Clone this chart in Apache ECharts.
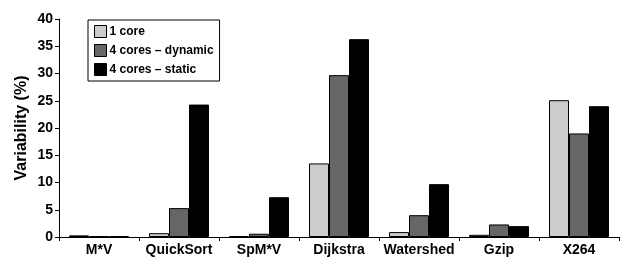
<!DOCTYPE html>
<html>
<head>
	<meta charset="utf-8">
	<script src="https://cdn.jsdelivr.net/npm/echarts@6/dist/echarts.min.js"></script>
</head>
<body style="margin:0">
	<div id="main" style="width: 622px; height: 258px;"></div>
<script type="text/javascript">
        var categories = ['M*V', 'QuickSort', 'SpM*V', 'Dijkstra', 'Watershed', 'Gzip', 'X264'];
        var oneCore = [0.3, 0.7, 0.15, 13.5, 0.9, 0.4, 25.1];
        var fourDynamic = [0.15, 5.3, 0.6, 29.7, 4.0, 2.3, 19.0];
        var fourStatic = [0.15, 24.3, 7.3, 36.3, 9.7, 2.0, 24.0];

        var font = 'Liberation Sans, Arial, sans-serif';
        var myChart = echarts.init(document.getElementById('main'));

        function bar(name, color, data) {
            return {
                name: name,
                type: 'bar',
                data: data,
                barGap: 0,
                barCategoryGap: '25%',
                itemStyle: { color: color, borderColor: '#000', borderWidth: 1 }
            };
        }

        var option = {
            backgroundColor: '#fff',
            animation: false,
            textStyle: { fontFamily: font },
            legend: {
                orient: 'vertical',
                left: 88,
                top: 20,
                icon: 'rect',
                itemWidth: 12,
                itemHeight: 12,
                itemGap: 6,
                padding: [5, 6, 5, 6],
                borderColor: '#000',
                borderWidth: 1,
                itemStyle: { borderColor: '#000', borderWidth: 1 },
                textStyle: { fontFamily: font, fontWeight: 'bold', fontSize: 12, color: '#000', padding: [0, 0, 0, -2] },
                data: ['1 core', '4 cores \u2013 dynamic', '4 cores \u2013 static']
            },
            grid: { left: 59, right: 3, top: 19, bottom: 21, containLabel: false },
            xAxis: {
                type: 'category',
                data: categories,
                axisLine: { lineStyle: { color: '#000' } },
                axisTick: { show: true, length: 4, lineStyle: { color: '#000' } },
                axisLabel: { interval: 0, fontFamily: font, fontWeight: 'bold', fontSize: 14, color: '#000', margin: 6 }
            },
            yAxis: {
                type: 'value',
                min: 0,
                max: 40,
                interval: 5,
                name: 'Variability (%)',
                nameLocation: 'middle',
                nameGap: 29,
                nameMoveOverlap: false,
                nameTextStyle: { fontFamily: font, fontWeight: 'bold', fontSize: 16, color: '#000' },
                axisLine: { show: true, lineStyle: { color: '#000' } },
                axisTick: { show: true, length: 4, lineStyle: { color: '#000' } },
                splitLine: { show: false },
                axisLabel: { fontFamily: font, fontWeight: 'bold', fontSize: 14, color: '#000', margin: 6 }
            },
            series: [
                bar('1 core', '#cccccc', oneCore),
                bar('4 cores \u2013 dynamic', '#666666', fourDynamic),
                bar('4 cores \u2013 static', '#000000', fourStatic)
            ]
        };

        myChart.setOption(option);
</script>
</body>
</html>
